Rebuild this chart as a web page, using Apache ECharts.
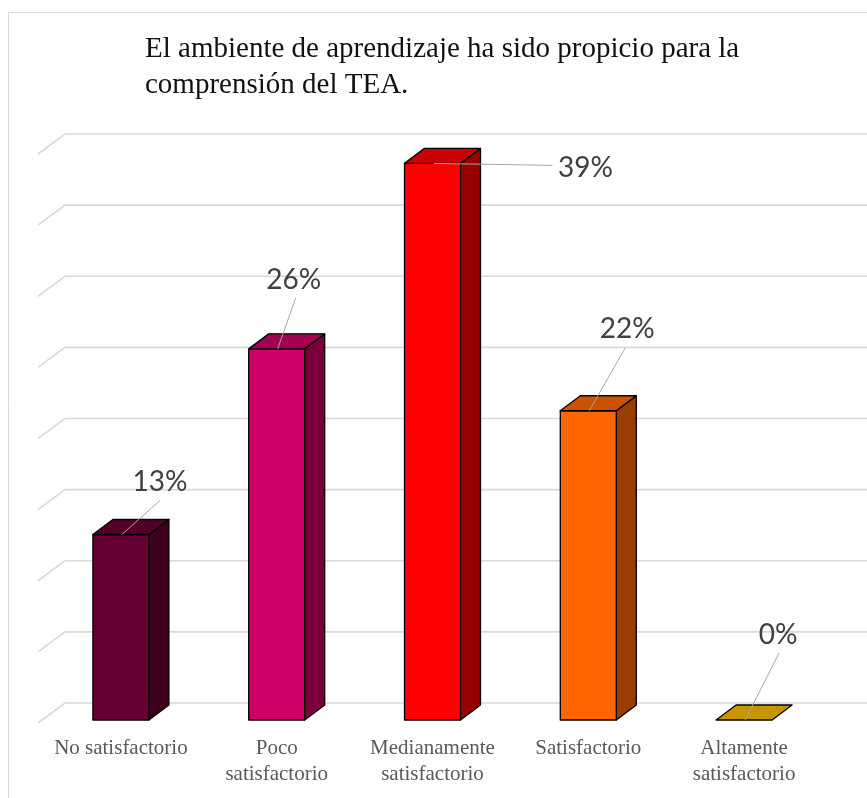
<!DOCTYPE html>
<html>
<head>
<meta charset="utf-8">
<script src="https://cdn.jsdelivr.net/npm/echarts@6/dist/echarts.min.js"></script>
<style>html,body{margin:0;padding:0;background:#fff}#c{width:867px;height:798px}</style>
</head>
<body>
<div id="c"></div>
<script>
const titleText = 'El ambiente de aprendizaje ha sido propicio para la\ncomprensión del TEA.';
const categories = ['No satisfactorio', 'Poco\nsatisfactorio', 'Medianamente\nsatisfactorio', 'Satisfactorio', 'Altamente\nsatisfactorio'];
const values = [0.1304, 0.2609, 0.3913, 0.2174, 0];
const valueLabels = ['13%', '26%', '39%', '22%', '0%'];
const gridTicks = [0, 0.05, 0.1, 0.15, 0.2, 0.25, 0.3, 0.35, 0.4];

// styles
const frontColors = ['#660033', '#cc0066', '#ff0000', '#ff6600', '#cc9900'];
const topColors   = ['#520029', '#a30052', '#cc0000', '#cc5200', '#c89400'];
const sideColors  = ['#3d001f', '#7a003d', '#990000', '#993d00', '#997300'];
// label layout offsets relative to bar front-top centre: [textDx, textDy, lineDx, lineDy]
const labelLayout = [[39, -53, 39, -34], [17, -69, 19, -51], [153, 5, 120, 2], [39, -82, 37, -63], [34, -85, 35, -67]];
const HALF_W = 28, DEPTH_X = 20, DEPTH_Y = -15;

const chart = echarts.init(document.getElementById('c'));
chart.setOption({
  animation: false,
  title: {
    text: titleText, left: 140, top: 26,
    textStyle: { fontFamily: 'Liberation Serif', fontSize: 29, fontWeight: 'normal', color: '#111', lineHeight: 36 }
  },
  graphic: [
    { type: 'line', shape: { x1: 8.5, y1: 12.5, x2: 8.5, y2: 798 }, style: { stroke: '#d9d9d9', lineWidth: 1 } },
    { type: 'line', shape: { x1: 8.5, y1: 12.5, x2: 867, y2: 12.5 }, style: { stroke: '#d9d9d9', lineWidth: 1 } }
  ],
  grid: { left: 43, right: 45, top: 151, bottom: 78 },
  xAxis: {
    type: 'category', data: categories,
    axisLine: { show: false }, axisTick: { show: false },
    axisLabel: { interval: 0, margin: 15, fontFamily: 'Liberation Serif', fontSize: 21, color: '#595959', lineHeight: 26, verticalAlign: 'top' }
  },
  yAxis: { type: 'value', min: 0, max: 0.4, interval: 0.05, show: false, splitLine: { show: false } },
  series: [
    {
      type: 'custom', clip: false, silent: true, z: 1,
      data: gridTicks.map(v => [0, v]),
      renderItem: function (params, api) {
        const y = api.coord([0, api.value(1)])[1] - 17;
        return {
          type: 'polyline',
          shape: { points: [[38, y + 20], [65, y], [api.getWidth(), y]] },
          style: { stroke: '#d9d9d9', lineWidth: 1.6, fill: null }
        };
      }
    },
    {
      type: 'custom', clip: false, silent: true, z: 2,
      data: values.map((v, i) => [i, v]),
      renderItem: function (params, api) {
        const i = params.dataIndex;
        const x = api.coord([i, 0])[0];
        const y0 = api.coord([i, 0])[1];
        const y1 = api.coord([i, api.value(1)])[1];
        const L = x - HALF_W, R = x + HALF_W;
        const edge = { stroke: '#000', lineWidth: 1.3, lineJoin: 'round' };
        const children = [];
        if (y0 - y1 > 0.5) {
          children.push({ type: 'polygon', shape: { points: [[R, y1], [R + DEPTH_X, y1 + DEPTH_Y], [R + DEPTH_X, y0 + DEPTH_Y], [R, y0]] },
            style: Object.assign({ fill: sideColors[i] }, edge) });
          children.push({ type: 'rect', shape: { x: L, y: y1, width: R - L, height: y0 - y1 },
            style: Object.assign({ fill: frontColors[i] }, edge) });
        }
        children.push({ type: 'polygon', shape: { points: [[L, y1], [L + DEPTH_X, y1 + DEPTH_Y], [R + DEPTH_X, y1 + DEPTH_Y], [R, y1]] },
          style: Object.assign({ fill: topColors[i] }, edge) });
        const lay = labelLayout[i];
        children.push({ type: 'line', shape: { x1: x + 1, y1: y1, x2: x + lay[2], y2: y1 + lay[3] },
          style: { stroke: '#a6a6a6', lineWidth: 1 } });
        children.push({ type: 'text', x: x + lay[0], y: y1 + lay[1],
          style: { text: valueLabels[i], fill: '#404040', font: '28px Lato', align: 'center', verticalAlign: 'middle' } });
        return { type: 'group', children: children };
      }
    }
  ]
});
</script>
</body>
</html>
